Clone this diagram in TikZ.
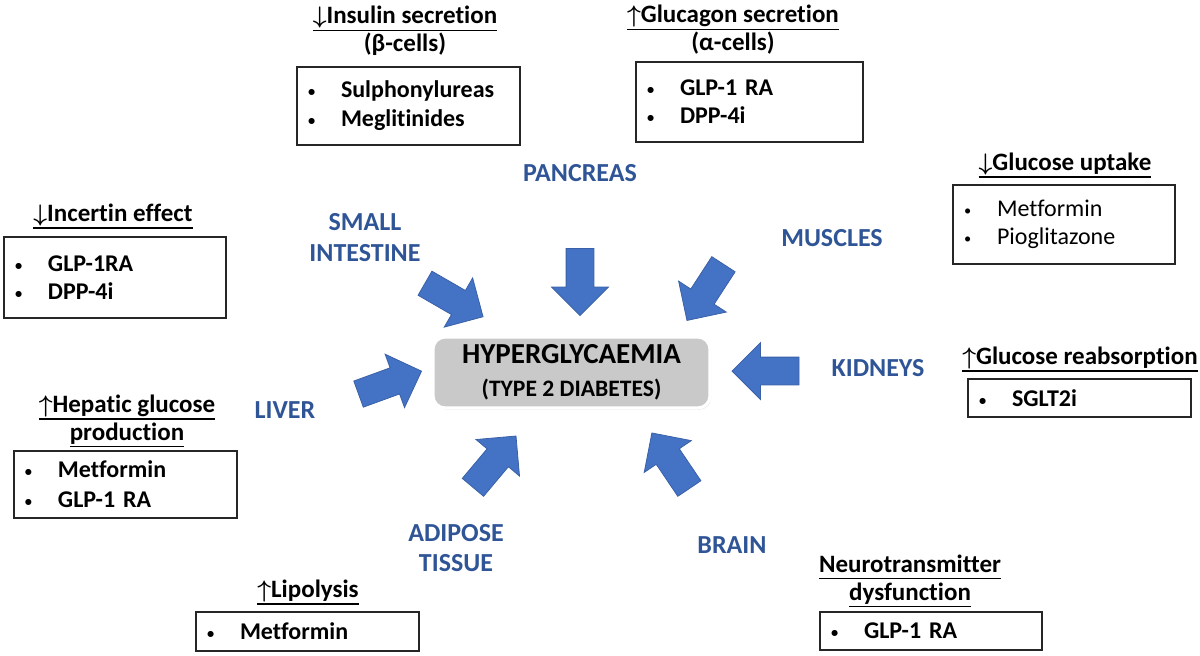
\documentclass[tikz,border=0pt]{standalone}
\usepackage{fontspec}
\setmainfont{Carlito}[Ligatures=CommonOff]
\usepackage{graphicx}
\usepackage{tikz}
\usetikzlibrary{shapes.arrows,shadows}

\definecolor{organblue}{RGB}{47,85,151}
\definecolor{arrowblue}{RGB}{68,114,196}
\definecolor{hubgray}{RGB}{201,201,201}

\newcommand{\itm}{\makebox[16.5pt][l]{\raisebox{0.6pt}{\scalebox{0.6}{\textbullet}}}}
\newcommand{\up}{{\boldmath$\uparrow$}}
\newcommand{\dn}{{\boldmath$\downarrow$}}
\newcommand{\ulin}[1]{\vtop{\hbox{#1\vphantom{gp}}\kern0.6pt\hrule height 0.8pt}}

\tikzset{
	organ/.style={text=organblue, font=\bfseries\fontsize{13}{15.5}\selectfont, align=center},
	effect/.style={font=\bfseries\fontsize{12.5}{14}\selectfont, align=center},
	drugbox/.style={draw=black!85, line width=0.9pt, inner xsep=5.5pt, inner ysep=0pt, align=left, font=\bfseries\fontsize{12}{14.5}\selectfont},
	organarrow/.style={single arrow, fill=arrowblue, draw=arrowblue!85!black, line width=0.4pt, minimum height=33.5pt, minimum width=28pt, single arrow head extend=7.25pt, inner xsep=0pt, inner ysep=6.75pt},
	hub/.style={rounded corners=6pt, fill=hubgray, draw=white, line width=1.6pt, minimum width=138.5pt, minimum height=35.5pt, align=center, font=\bfseries\fontsize{14.5}{16.5}\selectfont, drop shadow={shadow xshift=0.6pt, shadow yshift=-0.8pt, opacity=0.3}}
}

\begin{document}
\begin{tikzpicture}[x=0.5pt, y=-0.5pt]
	\useasboundingbox (0,0) rectangle (1200,655);

	\node[hub] (hub) at (571.5,372.5) {HYPERGLYCAEMIA\\{\fontsize{11.8}{16.5}\selectfont (TYPE 2 DIABETES)}};

	\foreach \nm/\x/\y/\a in {intestine/448/296.5/-30, pancreas/580/275/-90, muscles/709/286.5/-123, kidneys/772.5/371/180, liver/383.5/385/20, adipose/490/467/50, brain/674.5/466.5/124} {
		\node[organarrow, rotate=\a] (arr-\nm) at (\x,\y) {};
	}

	\node[organ] (pancreas) at (580,173) {PANCREAS};
	\node[organ] (intestine) at (365,237.5) {SMALL\\INTESTINE};
	\node[organ] (muscles) at (832,238) {MUSCLES};
	\node[organ] (kidneys) at (878,368) {KIDNEYS};
	\node[organ] (liver) at (285,410) {LIVER};
	\node[organ, font=\bfseries\fontsize{13}{15}\selectfont] (adipose) at (456,548) {ADIPOSE\\TISSUE};
	\node[organ] (brain) at (732,545) {BRAIN};

	\node[effect] (insulin-t) at (405,31) {\ulin{\dn Insulin secretion}\\(β-cells)};
	\node[drugbox, text width=100.5pt, minimum height=39pt] (insulin-b) at (408.5,106) {\itm Sulphonylureas\\\itm Meglitinides};

	\node[effect] (glucagon-t) at (733,30) {\ulin{\up Glucagon secretion}\\(α-cells)};
	\node[drugbox, text width=102.5pt, minimum height=40pt, font=\bfseries\fontsize{12}{14}\selectfont] (glucagon-b) at (749.5,102) {\itm GLP-1 RA\\\itm DPP-4i};

	\node[effect] (incertin-t) at (113,216) {\ulin{\dn Incertin effect}};
	\node[drugbox, text width=100pt, minimum height=40.5pt, font=\bfseries\fontsize{12}{14}\selectfont] (incertin-b) at (115,277.5) {\itm GLP-1RA\\\itm DPP-4i};

	\node[effect] (uptake-t) at (1065,165) {\ulin{\dn Glucose uptake}};
	\node[drugbox, text width=100pt, minimum height=39.5pt, font=\fontsize{12}{14}\selectfont] (uptake-b) at (1064,224.5) {\itm Metformin\\\itm Pioglitazone};

	\node[effect] (reabs-t) at (1080,359) {\ulin{\up Glucose reabsorption}};
	\node[drugbox, text width=100.5pt, minimum height=19pt] (reabs-b) at (1079.5,398) {\itm SGLT2i};

	\node[effect] (hepatic-t) at (127,421) {\ulin{\up Hepatic glucose}\\\ulin{production}};
	\node[drugbox, text width=100.5pt, minimum height=33.5pt, font=\bfseries\fontsize{12}{15}\selectfont] (hepatic-b) at (125.5,484.5) {\itm Metformin\\\itm GLP-1 RA};

	\node[effect] (lipolysis-t) at (308,592) {\ulin{\up Lipolysis}};
	\node[drugbox, text width=100.5pt, minimum height=19.5pt] (lipolysis-b) at (307.5,631.5) {\itm Metformin};

	\node[effect] (neuro-t) at (910,581) {\ulin{Neurotransmitter}\\\ulin{dysfunction}};
	\node[drugbox, text width=100pt, minimum height=19pt] (neuro-b) at (931,631) {\itm GLP-1 RA};
\end{tikzpicture}
\end{document}
